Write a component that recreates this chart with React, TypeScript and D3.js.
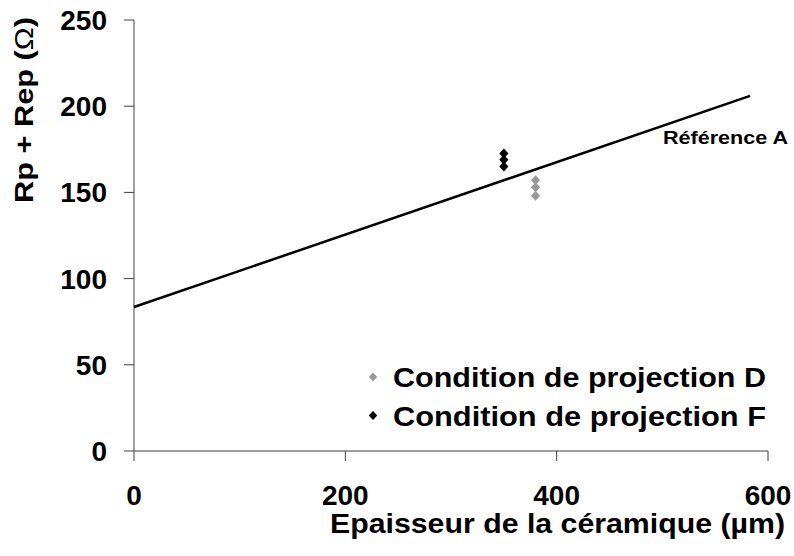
import React from "react";
import * as d3 from "d3";

const xTicks = [0, 200, 400, 600];
const yTicks = [0, 50, 100, 150, 200, 250];
const seriesD = { name: "Condition de projection D", color: "#999999", x: [380, 380, 380], y: [157, 153, 148] };
const seriesF = { name: "Condition de projection F", color: "#000000", x: [350, 350, 350], y: [172.5, 169, 165] };
const refLineX = [0, 583];
const refLineY = [83.5, 206];
const refLabel = "Référence A";
const xTitle = "Epaisseur de la céramique (µm)";

const W = 794, H = 556;
const left = 134, right = 768, top = 20, bottom = 451;

export default function App() {
  const x = d3.scaleLinear().domain([0, 600]).range([left, right]);
  const y = d3.scaleLinear().domain([0, 250]).range([bottom, top]);
  const diamond = "M0,-5L4.6,0L0,5L-4.6,0Z";
  const legDiamond = "M0,-4.5L4.2,0L0,4.5L-4.2,0Z";
  const line = d3.line<number>().x((_, i) => x(refLineX[i])).y((d) => y(d));
  const font = "'Liberation Sans', Arial, sans-serif";
  const axisColor = "#404040";
  return (
    <svg width={W} height={H} style={{ position: "absolute", left: 0, top: 0, fontFamily: font }}>
      <rect width={W} height={H} fill="#fff" />
      <line x1={left} x2={left} y1={y(250)} y2={bottom} stroke={axisColor} strokeWidth={1} />
      <line x1={left} x2={right} y1={bottom} y2={bottom} stroke={axisColor} strokeWidth={1} />
      {yTicks.map((t) => (
        <g key={"y" + t}>
          <line x1={left - 10} x2={left} y1={y(t)} y2={y(t)} stroke={axisColor} />
          <text x={107} y={y(t) + 10} textAnchor="end" fontWeight="bold" fontSize={28}>{t}</text>
        </g>
      ))}
      {xTicks.map((t) => (
        <g key={"x" + t}>
          <line x1={x(t)} x2={x(t)} y1={bottom} y2={bottom + 10} stroke={axisColor} />
          <text x={x(t)} y={505} textAnchor="middle" fontWeight="bold" fontSize={28}>{t}</text>
        </g>
      ))}
      <path d={line(refLineY) || ""} fill="none" stroke="#000" strokeWidth={2.5} />
      <text x={663} y={144} fontWeight="bold" fontSize={18.5} textLength={125} lengthAdjust="spacingAndGlyphs">{refLabel}</text>
      {[seriesD, seriesF].map((s) =>
        s.x.map((v, i) => (
          <path key={s.name + i} d={diamond} transform={`translate(${x(v)},${y(s.y[i])})`} fill={s.color} />
        ))
      )}
      {[seriesD, seriesF].map((s, i) => (
        <g key={"leg" + i} transform={`translate(0,${377 + i * 38.5})`}>
          <path d={legDiamond} transform="translate(373,0)" fill={s.color} />
          <text x={393} y={10} fontWeight="bold" fontSize={27} textLength={373} lengthAdjust="spacingAndGlyphs">{s.name}</text>
        </g>
      ))}
      <text x={330} y={533} fontWeight="bold" fontSize={28} textLength={455} lengthAdjust="spacingAndGlyphs">{xTitle}</text>
      <text transform={`translate(33,${203}) rotate(-90)`} fontWeight="bold" fontSize={26} textLength={186} lengthAdjust="spacingAndGlyphs">
        Rp + Rep (<tspan fontWeight="normal">Ω</tspan>)
      </text>
    </svg>
  );
}
